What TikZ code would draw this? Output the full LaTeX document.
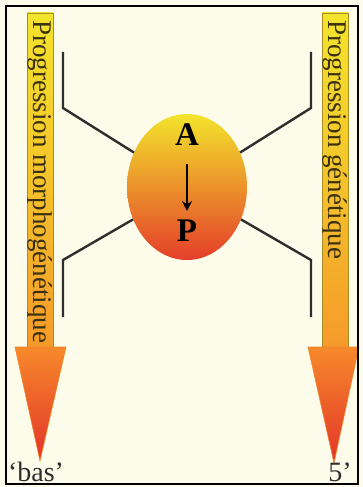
\documentclass[tikz,border=0pt]{standalone}
\usepackage{fontspec}
\setmainfont{Liberation Serif}
\usetikzlibrary{shapes.geometric,arrows.meta}
\definecolor{fond}{HTML}{FDFCEA}
\definecolor{jaune}{HTML}{F3E42C}
\definecolor{orange}{HTML}{F59A2A}
\definecolor{orangeclair}{HTML}{F7892A}
\definecolor{rouge}{HTML}{E2342A}
\definecolor{bord}{HTML}{A88E22}
\definecolor{trait}{HTML}{2E2E2E}
\definecolor{texte}{HTML}{3A3012}
\tikzset{
  tige/.style={draw=bord,line width=0.6pt,top color=jaune,bottom color=orange,middle color=jaune!55!orange},
  pointe/.style={draw=orange!80!rouge,line width=0.6pt,top color=orangeclair,bottom color=rouge},
  lien/.style={draw=trait,line width=2.4pt},
  etiq/.style={font=\fontsize{27}{27}\selectfont,text=texte,inner sep=0pt,rotate=-90,anchor=west},
  lettre/.style={font=\bfseries\fontsize{33}{33}\selectfont,inner sep=0pt}
}
\begin{document}
\begin{tikzpicture}[x=1pt,y=-1pt,>=Stealth]
  \useasboundingbox (0,0) rectangle (363,487);
  \fill[fond] (0,0) rectangle (363,487);

  % fleches de progression
  \shade[tige] (27,13) rectangle (53,347);
  \shade[pointe] (15,347) -- (66,347) -- (40,461) -- cycle;
  \shade[tige] (322,13) rectangle (348,347);
  \shade[pointe] (308,347) -- (359,347) -- (334,463) -- cycle;
  \node[etiq] (morpho) at (40,20) {Progression morphogénétique};
  \node[etiq] (gene) at (335,20) {Progression génétique};

  % cellule
  \node[ellipse,minimum width=120pt,minimum height=146pt,inner sep=0pt,
    top color=jaune,middle color=jaune!45!orange,bottom color=rouge!90!orange] (cell) at (187,187) {};
  \node[lettre] (a) at (187,135) {A};
  \node[lettre] (p) at (187,231) {P};
  \draw[->,line width=2.2pt,shorten <=18pt,shorten >=9pt,>={Stealth[length=10pt,width=10pt]}] (a.south) -- (p.north);

  % coins des traits
  \coordinate (hg1) at (63,52);
  \coordinate (hg2) at (63,108);
  \coordinate (bg1) at (63,317);
  \coordinate (bg2) at (63,260);
  \coordinate (hd1) at (311,52);
  \coordinate (hd2) at (311,108);
  \coordinate (bd1) at (311,317);
  \coordinate (bd2) at (311,260);

  \draw[lien] (hg1) -- (hg2) -- (cell.147);
  \draw[lien] (bg1) -- (bg2) -- (cell.211);
  \draw[lien] (hd1) -- (hd2) -- (cell.33);
  \draw[lien] (bd1) -- (bd2) -- (cell.-31);

  % extremites
  \node[font=\fontsize{28}{28}\selectfont,text=trait,inner sep=0pt,anchor=base] (bas) at (36,481) {‘bas’};
  \node[font=\fontsize{28}{28}\selectfont,text=trait,inner sep=0pt,anchor=base] (cinq) at (340,481) {5’};

  % cadre
  \draw[line width=2pt] (6,6) rectangle (358,484);
\end{tikzpicture}
\end{document}
